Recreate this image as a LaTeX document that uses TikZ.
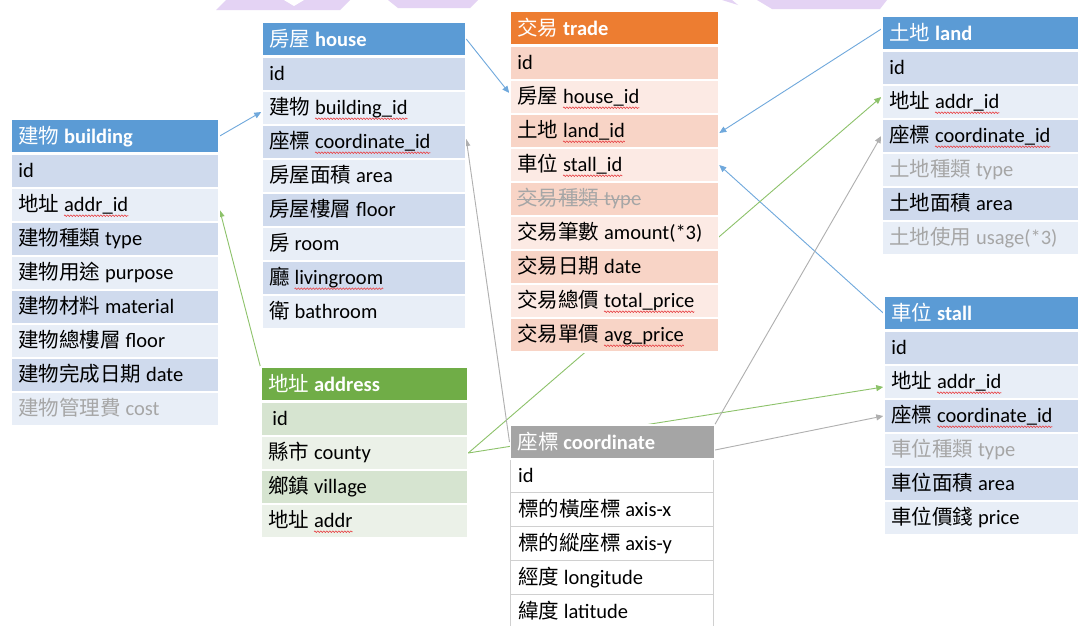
\documentclass[tikz,border=0pt]{standalone}
\usepackage{fontspec}
\setmainfont{Carlito}
\newfontfamily\cjk{Noto Sans CJK TC}
\usetikzlibrary{arrows.meta,decorations.pathmorphing}
\pgfdeclarelayer{bottom}
\pgfdeclarelayer{wires}
\pgfsetlayers{bottom,wires,main}
\definecolor{bluehd}{HTML}{5B9BD5}
\definecolor{bluedk}{HTML}{CFDAED}
\definecolor{bluelt}{HTML}{E8EEF7}
\definecolor{orghd}{HTML}{ED7D31}
\definecolor{orgdk}{HTML}{F8D4C6}
\definecolor{orglt}{HTML}{FCEAE4}
\definecolor{grnhd}{HTML}{70AD47}
\definecolor{grndk}{HTML}{D6E4D0}
\definecolor{grnlt}{HTML}{EBF1E8}
\definecolor{grayhd}{HTML}{A5A5A5}
\definecolor{grayln}{HTML}{D0D0D0}
\definecolor{txtgray}{HTML}{A6A6A6}
\definecolor{wmark}{HTML}{E4D3F4}
\definecolor{squig}{HTML}{E8474A}
\definecolor{lnblue}{HTML}{6FA8DC}
\definecolor{lngreen}{HTML}{8DC26A}
\definecolor{lngray}{HTML}{AFAFAF}
\newcommand\zh[1]{{\cjk #1}}
\newsavebox\sqbox
\newlength\sqlen
\newcommand\sq[1]{\sbox\sqbox{#1}\setlength\sqlen{\wd\sqbox}\rlap{\usebox\sqbox}\rlap{\tikz[overlay,x=1pt,y=1pt]{\draw[squig,line width=0.6pt,decorate,decoration={zigzag,amplitude=0.8pt,segment length=3pt}] (0pt,-4.2pt) -- (\sqlen,-4.2pt);}}\hspace{\sqlen}}
\newcommand\strk[1]{\sbox\sqbox{#1}\rlap{\usebox\sqbox}\rule[5.5pt]{\wd\sqbox}{1pt}}
\tikzset{
  rowbox/.style={rectangle, draw=white, line width=1.5pt, minimum height=34pt, inner sep=0pt, anchor=north west},
  cbox/.style={rectangle, draw=grayln, fill=white, line width=0.8pt, minimum height=34pt, inner sep=0pt, anchor=north west},
  lbl/.style={anchor=base west, inner sep=0pt, font=\fontsize{20.5}{24}\selectfont},
  hlbl/.style={lbl, text=white},
  conn/.style={line width=0.9pt, -{Triangle[length=7pt,width=6pt]}},
}
\newcommand\mktable[9]{%
  \node[rowbox, fill=#5, minimum width=#4pt] (#1h) at (#2,#3) {};
  \node[hlbl] (#1ht) at ([xshift=8pt,yshift=-7pt]#1h.west) {#8};
  \foreach \rowtext [count=\i] in {#9} {%
    \ifodd\i\relax \def\rowcol{#6}\else \def\rowcol{#7}\fi
    \node[rowbox, fill=\rowcol, minimum width=#4pt] (#1\i) at (#2,{#3+1+34*\i}) {};
    \node[lbl] (#1t\i) at ([xshift=8pt,yshift=-6.5pt]#1\i.west) {\rowtext};
  }%
}
\begin{document}
\begin{tikzpicture}[x=1pt,y=-1pt]
\useasboundingbox (0,0) rectangle (1078,625);
\begin{pgfonlayer}{bottom}
\fill[white] (0,0) rectangle (1078,625);
% faint watermark at the top edge
\fill[wmark] (216,10) -- (226,0) -- (350,0) -- (340,10) -- cycle;
\fill[white] (284,0) -- (304,0) -- (294,6) -- cycle;
\fill[wmark] (388,0) -- (478,0) -- (470,8) -- (398,8) -- cycle;
\fill[wmark] (757,0) -- (887,0) -- (880,9) -- (772,9) -- cycle;
\fill[wmark] (722,0) -- (732,0) -- (738,5) -- cycle;
\end{pgfonlayer}

\mktable{b}{10.25}{118.25}{208}{bluehd}{bluedk}{bluelt}{\zh{建物} \textbf{building}}{{id},{\zh{地址} \sq{addr\_id}},{\zh{建物種類} type},{\zh{建物用途} purpose},{\zh{建物材料} material},{\zh{建物總樓層} floor},{\zh{建物完成日期} date},{\textcolor{txtgray}{\zh{建物管理費} cost}}}

\mktable{h}{261.25}{21.25}{203.5}{bluehd}{bluedk}{bluelt}{\zh{房屋} \textbf{house}}{{id},{\zh{建物} \sq{building\_id}},{\zh{座標} \sq{coordinate\_id}},{\zh{房屋面積} area},{\zh{房屋樓層} floor},{\zh{房} room},{\zh{廳} \sq{livingroom}},{\zh{衛} bathroom}}

\mktable{t}{509.25}{10.25}{208.5}{orghd}{orgdk}{orglt}{\zh{交易} \textbf{trade}}{{id},{\zh{房屋} \sq{house\_id}},{\zh{土地} \sq{land\_id}},{\zh{車位} \sq{stall\_id}},{\textcolor{txtgray}{\strk{\zh{交易種類} type}}},{\zh{交易筆數} amount(*3)},{\zh{交易日期} date},{\zh{交易總價} \sq{total\_price}},{\zh{交易單價} \sq{avg\_price}}}

\mktable{l}{881.25}{15.25}{200}{bluehd}{bluedk}{bluelt}{\zh{土地} \textbf{land}}{{id},{\zh{地址} \sq{addr\_id}},{\zh{座標} \sq{coordinate\_id}},{\textcolor{txtgray}{\zh{土地種類} type}},{\zh{土地面積} area},{\textcolor{txtgray}{\zh{土地使用} usage(*3)}}}

\mktable{s}{883.25}{295.25}{200}{bluehd}{bluedk}{bluelt}{\zh{車位} \textbf{stall}}{{id},{\zh{地址} \sq{addr\_id}},{\zh{座標} \sq{coordinate\_id}},{\textcolor{txtgray}{\zh{車位種類} type}},{\zh{車位面積} area},{\zh{車位價錢} price}}

\mktable{a}{260.25}{366.25}{206.5}{grnhd}{grndk}{grnlt}{\zh{地址} \textbf{address}}{{\hspace{4pt}id},{\zh{縣市} county},{\zh{鄉鎮} village},{\zh{地址} \sq{addr}}}

% coordinate table
\foreach \rowtext [count=\i] in {{id},{\zh{標的橫座標} axis-x},{\zh{標的縱座標} axis-y},{\zh{經度} longitude},{\zh{緯度} latitude}} {
  \node[cbox, minimum width=203pt] (c\i) at (510,{424.25+34*\i}) {};
  \node[lbl] (ct\i) at ([xshift=8pt,yshift=-6.5pt]c\i.west) {\rowtext};
}
\node[rowbox, fill=grayhd, minimum width=204pt] (ch) at (509.5,424.25) {};
\node[hlbl] (cht) at ([xshift=8pt,yshift=-7pt]ch.west) {\zh{座標} \textbf{coordinate}};

\begin{pgfonlayer}{wires}
\draw[conn, lnblue] (bh.east) -- ([yshift=-4pt]h2.west);
\draw[conn, lnblue] (hh.east) -- ([yshift=4pt]t2.west);
\draw[conn, lnblue] ([yshift=4pt]lh.west) -- ([yshift=-2pt]t3.east);
\draw[conn, lnblue] (sh.west) -- (t4.east);
\draw[conn, lngreen] (a2.east) -- ([yshift=5pt]l2.west);
\draw[conn, lngreen] (a2.east) -- ([yshift=-5pt]s2.west);
\draw[conn, lngreen] (ah.north west) -- ([yshift=-5pt]b2.east);
\draw[conn, lngray] (ch.west) -- ([yshift=3pt]h3.east);
\draw[conn, lngray] (ch.north east) -- (l3.west);
\draw[conn, lngray] ([yshift=-8pt]ch.east) -- (s3.west);
\end{pgfonlayer}
\end{tikzpicture}
\end{document}
